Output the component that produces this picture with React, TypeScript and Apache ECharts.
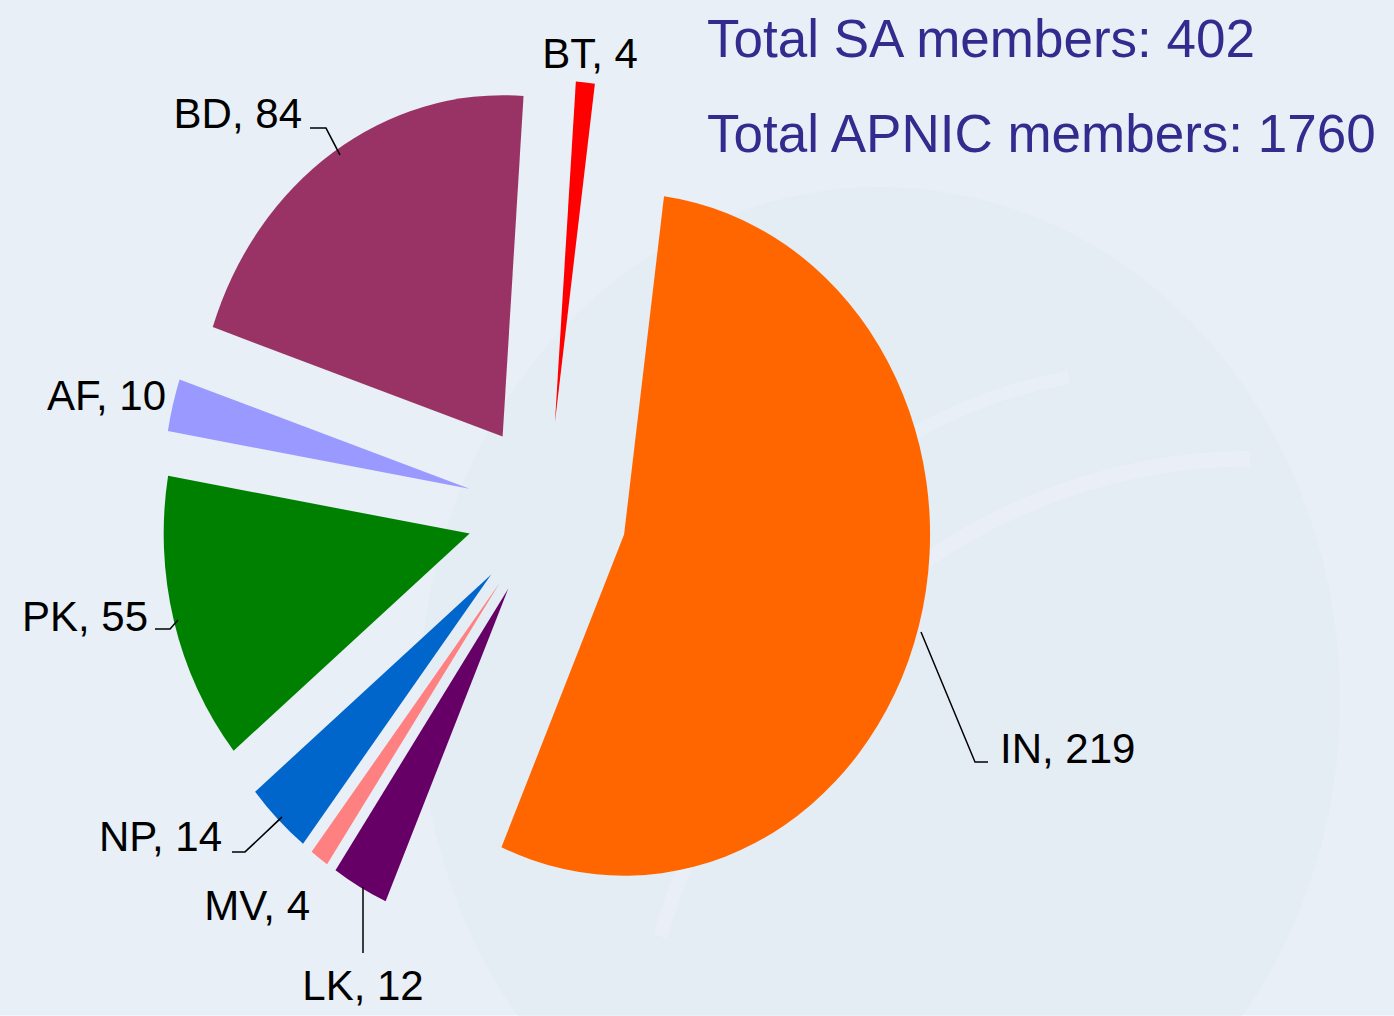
import React, { useEffect, useRef } from "react";
import * as echarts from "echarts";

const countries = ["IN", "LK", "MV", "NP", "PK", "AF", "BD", "BT"];
const members = [219, 12, 4, 14, 55, 10, 84, 4];
const sliceColors = ["#ff6600", "#660066", "#ff8080", "#0066cc", "#008000", "#9999ff", "#993366", "#ff0000"];
const totalSA = 402;
const totalAPNIC = 1760;

// The original slide stretches the pie vertically; the chart is stretched the same way
// and the texts are counter-scaled so they keep their normal proportions.
const STRETCH = 1.115;
const W = 1394;
const H = 1016;

// label placement in page pixels: [x, y, align]
const labelPlacement: Record<string, [number, number, string]> = {
  IN: [1000, 748, "left"],
  LK: [363, 985, "center"],
  MV: [310, 905, "right"],
  NP: [222, 836, "right"],
  PK: [148, 616, "right"],
  AF: [166, 395, "right"],
  BD: [302, 113, "right"],
  BT: [590, 53, "center"],
};
// leader lines in page pixels
const leaderLines: Record<string, number[][]> = {
  IN: [[921, 632], [975, 762], [988, 762]],
  LK: [[363, 953], [363, 887]],
  NP: [[232, 852], [245, 852], [282, 817]],
  PK: [[155, 629], [170, 629], [178, 620]],
  BD: [[310, 128], [326, 128], [340, 155]],
};

export default function App() {
  const ref = useRef<HTMLDivElement>(null);
  useEffect(() => {
    if (!ref.current) return;
    const chart = echarts.init(ref.current, null, { renderer: "svg" });
    const data = countries.map((c, i) => ({
      name: c,
      value: members[i],
      selected: true,
      itemStyle: { color: sliceColors[i] },
    }));
    const font42 = "42px 'Liberation Sans', Arial, sans-serif";
    const font53 = "53px 'Liberation Sans', Arial, sans-serif";
    const sy = (y: number) => y / STRETCH;
    const labelTexts = countries.map((c, i) => {
      const p = labelPlacement[c];
      return {
        type: "text",
        z: 10,
        silent: true,
        x: p[0],
        y: sy(p[1]),
        scaleY: 1 / STRETCH,
        style: { text: `${c}, ${members[i]}`, fill: "#000", font: font42, align: p[2], verticalAlign: "middle" },
      };
    });
    const lines = Object.keys(leaderLines).map((c) => ({
      type: "polyline",
      z: 10,
      silent: true,
      shape: { points: leaderLines[c].map((pt) => [pt[0], sy(pt[1])]) },
      style: { stroke: "#000", lineWidth: 1.5, fill: "none" },
    }));
    chart.setOption({
      animation: false,
      backgroundColor: "#e8eff6",
      graphic: [
        { type: "circle", z: 0, silent: true, shape: { cx: 880, cy: sy(700), r: 460 }, style: { fill: "#dfe8f2", opacity: 0.45 } },
        { type: "arc", z: 0, silent: true, shape: { cx: 1250, cy: sy(1150), r: 620, startAngle: Math.PI * 1.1, endAngle: Math.PI * 1.5 }, style: { stroke: "#eef3f9", lineWidth: 14, fill: "none", opacity: 0.55 } },
        { type: "arc", z: 0, silent: true, shape: { cx: 1150, cy: sy(950), r: 520, startAngle: Math.PI * 1.05, endAngle: Math.PI * 1.45 }, style: { stroke: "#eef3f9", lineWidth: 12, fill: "none", opacity: 0.45 } },
        {
          type: "text",
          z: 10,
          x: 707,
          y: sy(38),
          scaleY: 1 / STRETCH,
          style: { text: `Total SA members: ${totalSA}`, fill: "#332c8f", font: font53, verticalAlign: "middle" },
        },
        {
          type: "text",
          z: 10,
          x: 707,
          y: sy(133),
          scaleY: 1 / STRETCH,
          style: { text: `Total APNIC members: ${totalAPNIC}`, fill: "#332c8f", font: font53, verticalAlign: "middle" },
        },
        ...labelTexts,
        ...lines,
      ],
      series: [
        {
          type: "pie",
          center: [547, 458],
          radius: [0, 306],
          startAngle: 82.5,
          clockwise: true,
          selectedMode: "multiple",
          selectedOffset: 80,
          emphasis: { disabled: true },
          label: { show: false },
          labelLine: { show: false },
          data,
        },
      ],
    });
    return () => chart.dispose();
  }, []);
  return (
    <div
      ref={ref}
      style={{
        position: "fixed",
        left: 0,
        top: 0,
        width: W,
        height: H / STRETCH,
        transform: `scaleY(${STRETCH})`,
        transformOrigin: "0 0",
      }}
    />
  );
}
